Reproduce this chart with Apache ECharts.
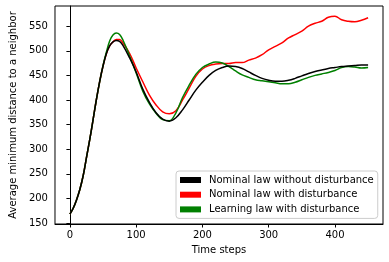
<!DOCTYPE html>
<html>
<head>
<meta charset="utf-8">
<script src="https://cdn.jsdelivr.net/npm/echarts@6/dist/echarts.min.js"></script>
<style>html,body{margin:0;padding:0;background:#fff}#c{width:389px;height:262px}</style>
</head>
<body>
<div id="c"></div>
<script>
const steps = [0,5,10,15,20,25,30,35,40,45,50,55,60,65,70,75,80,90,100,110,120,130,140,150,160,170,180,190,200,210,220,230,240,250,260,270,280,290,300,310,320,330,340,350,360,370,380,390,400,410,420,430,440,450];
const nominalNoDist = [168,180,197,218,246,283,320,360,401,438,469,494,510,518,521,519,511,486,457,422,395,374,361,357,364,380,400,420,436,450,460,466,469,468,464,457,450,444,440,438,438,440,444,449,454,458,461,464,466,468,469,470,471,471];
const nominalDist = [168,180,197,218,246,283,320,360,401,438,469,494,510,518,523,523,516,495,465,437,410,390,376,372,378,400,424,448,463,470,473,474,474,476,476,481,485,492,502,509,516,526,533,540,550,556,560,568,570,563,560,559,562,567];
const learningDist = [168,180,197,218,246,283,320,360,401,438,470,497,520,532,536,533,522,490,455,418,392,373,360,358,374,405,430,452,466,473,477,475,468,459,451,446,441,439,437,435,433,433,436,441,446,450,453,456,460,466,468,467,465,466];
const xTicks = [0,100,200,300,400];
const yTicks = [150,200,250,300,350,400,450,500,550];
const names = ['Nominal law without disturbance','Nominal law with disturbance','Learning law with disturbance'];
const colors = ['#000000','#ff0000','#008000'];
const seriesData = [nominalNoDist, nominalDist, learningDist];

const chart = echarts.init(document.getElementById('c'), null, {renderer:'canvas'});
const font = 'DejaVu Sans';
chart.setOption({
  animation:false,
  backgroundColor:'#fff',
  textStyle:{fontFamily:font},
  grid:{left:47,right:6,top:6,bottom:38,show:true,borderColor:'#000',borderWidth:1,backgroundColor:'transparent'},
  xAxis:{type:'value',min:-22.5,max:472.5,
    name:'Time steps',nameLocation:'middle',nameGap:21,
    nameTextStyle:{fontFamily:font,fontSize:10,color:'#000'},
    axisLine:{show:true,lineStyle:{color:'#000',width:1}},
    axisTick:{show:true,length:3.5,inside:false,customValues:xTicks,lineStyle:{color:'#000'}},
    axisLabel:{customValues:xTicks,margin:6,fontFamily:font,fontSize:10,color:'#000'},
    splitLine:{show:false}},
  yAxis:{type:'value',min:148,max:591,
    name:'Average minimum distance to a neighbor',nameLocation:'middle',nameGap:33,
    nameTextStyle:{fontFamily:font,fontSize:10,color:'#000'},
    axisLine:{show:true,lineStyle:{color:'#000',width:1}},
    axisTick:{show:true,length:3.5,inside:false,customValues:yTicks,lineStyle:{color:'#000'}},
    axisLabel:{customValues:yTicks,margin:7,fontFamily:font,fontSize:10,color:'#000'},
    splitLine:{show:false}},
  legend:{orient:'vertical',left:176,top:171,
    data:names.map(n=>({name:n,icon:'rect'})),
    itemWidth:21,itemHeight:6,itemGap:2.7,
    padding:[3,4,3,4],
    backgroundColor:'#fff',borderColor:'#ccc',borderWidth:1,borderRadius:3,
    textStyle:{fontFamily:font,fontSize:10,color:'#000',lineHeight:12,padding:[0,0,0,3]}},
  series:names.map((n,i)=>({
    name:n,type:'line',smooth:0.4,showSymbol:false,
    data:steps.map((s,j)=>[s,seriesData[i][j]]),
    lineStyle:{color:colors[i],width:1.5},itemStyle:{color:colors[i]},
    z:i===0?3:2
  }))
});
</script>
</body>
</html>
